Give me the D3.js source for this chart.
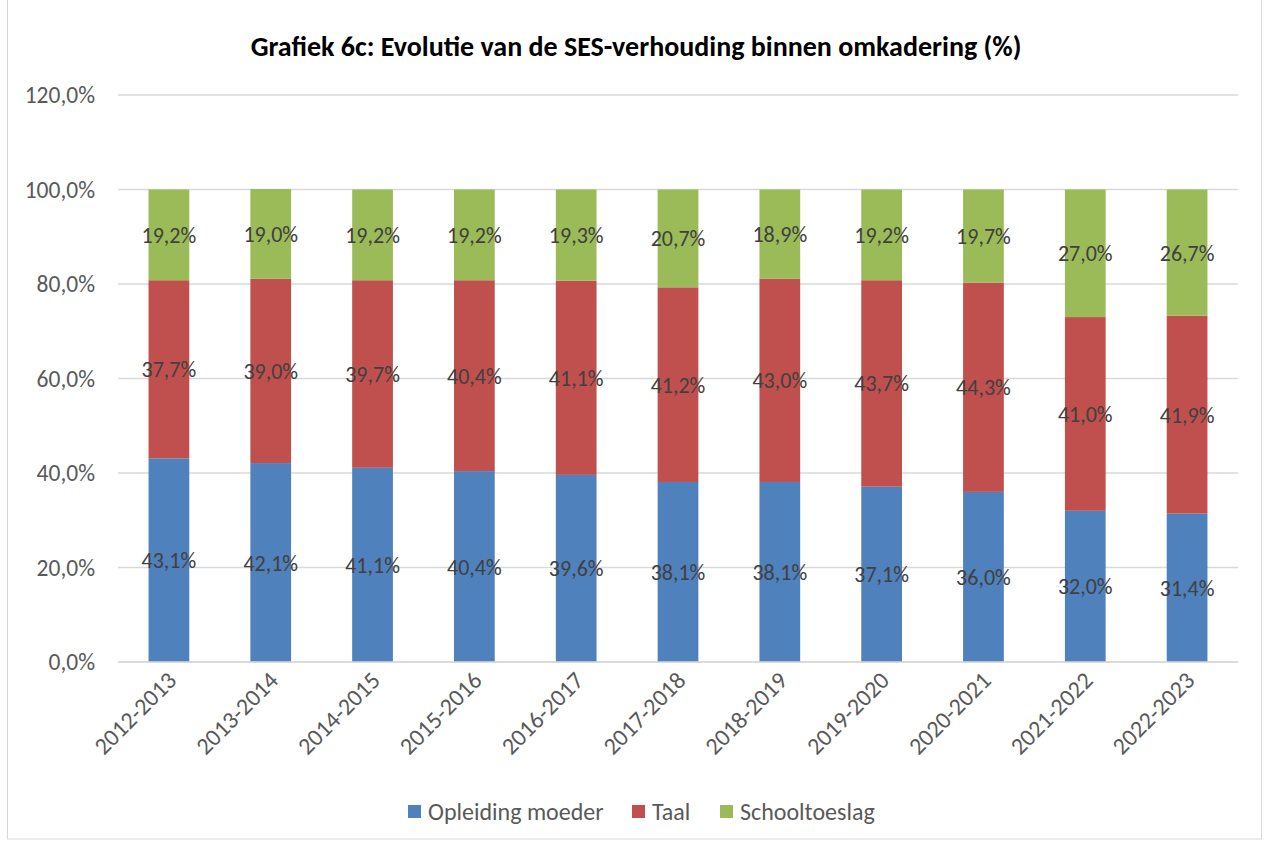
<!DOCTYPE html>
<meta charset="utf-8">
<script src="https://d3js.org/d3.v7.min.js"></script>
<style>
body { margin: 0; background: #fff; }
text { font-family: Carlito, Lato, "Open Sans", sans-serif; }
</style>
<body>
<script>

var years = ["2012-2013","2013-2014","2014-2015","2015-2016","2016-2017","2017-2018","2018-2019","2019-2020","2020-2021","2021-2022","2022-2023"];
var opleiding = [43.1, 42.1, 41.1, 40.4, 39.6, 38.1, 38.1, 37.1, 36.0, 32.0, 31.4];
var taal = [37.7, 39.0, 39.7, 40.4, 41.1, 41.2, 43.0, 43.7, 44.3, 41.0, 41.9];
var schooltoeslag = [19.2, 19.0, 19.2, 19.2, 19.3, 20.7, 18.9, 19.2, 19.7, 27.0, 26.7];
var seriesNames = ["Opleiding moeder", "Taal", "Schooltoeslag"];
var yTicks = [0, 20, 40, 60, 80, 100, 120];

var colors = ["#4F81BD", "#C0504D", "#9BBB59"];
var width = 1266, height = 845;

var svg = d3.select("body").append("svg")
    .attr("width", width)
    .attr("height", height);

// chart border
svg.append("rect")
    .attr("x", 7.5).attr("y", -1)
    .attr("width", 1254).attr("height", 840)
    .attr("fill", "none").attr("stroke", "#d9d9d9");

var x = d3.scaleBand().domain(years).range([118, 1238]).paddingInner(0.6).paddingOuter(0.3);
var y = d3.scaleLinear().domain([0, 120]).range([662, 95]);

// gridlines
svg.append("g").selectAll("line")
    .data(yTicks)
    .enter().append("line")
    .attr("x1", 118).attr("x2", 1238)
    .attr("y1", d => y(d)).attr("y2", d => y(d))
    .attr("stroke", "#d9d9d9").attr("stroke-width", 1.3);

// y labels
svg.append("g").selectAll("text")
    .data(yTicks)
    .enter().append("text")
    .attr("x", 95).attr("y", d => y(d) + 8)
    .attr("text-anchor", "end")
    .style("font-size", "23.5px")
    .attr("fill", "#595959")
    .text(d => d.toFixed(1).replace(".", ",") + "%");

var table = years.map(function(yr, i) {
  return {year: yr, "Opleiding moeder": opleiding[i], "Taal": taal[i], "Schooltoeslag": schooltoeslag[i]};
});
var stacked = d3.stack().keys(seriesNames)(table);

var layer = svg.append("g").selectAll("g")
    .data(stacked)
    .enter().append("g")
    .attr("fill", (d, i) => colors[i]);

layer.selectAll("rect")
    .data(d => d)
    .enter().append("rect")
    .attr("x", d => x(d.data.year))
    .attr("width", x.bandwidth())
    .attr("y", d => y(d[1]))
    .attr("height", d => y(d[0]) - y(d[1]));

layer.selectAll("text")
    .data(d => d.map(v => ({v: v, key: d.key})))
    .enter().append("text")
    .attr("x", d => x(d.v.data.year) + x.bandwidth() / 2)
    .attr("y", d => y((d.v[0] + d.v[1]) / 2) + 8)
    .attr("text-anchor", "middle")
    .style("font-size", "22px")
    .attr("fill", "#404040")
    .text(d => d.v.data[d.key].toFixed(1).replace(".", ",") + "%");

// x axis line
svg.append("line")
    .attr("x1", 118).attr("x2", 1238)
    .attr("y1", y(0)).attr("y2", y(0))
    .attr("stroke", "#d9d9d9").attr("stroke-width", 1.5);

// x labels
svg.append("g").selectAll("text")
    .data(years)
    .enter().append("text")
    .attr("transform", d => "translate(" + (x(d) + x.bandwidth() / 2 + 9) + "," + 682 + ") rotate(-45)")
    .attr("text-anchor", "end")
    .style("font-size", "24px")
    .attr("fill", "#595959")
    .text(d => d);

// title
svg.append("text")
    .attr("x", 636).attr("y", 56)
    .attr("text-anchor", "middle")
    .style("font-size", "28px")
    .style("font-weight", "bold")
    .attr("fill", "#000")
    .text("Grafiek 6c: Evolutie van de SES-verhouding binnen omkadering (%)");

// legend
var legendX = [408, 632, 720];
var legend = svg.append("g").selectAll("g")
    .data(seriesNames)
    .enter().append("g")
    .attr("transform", (d, i) => "translate(" + legendX[i] + ",805)");
legend.append("rect")
    .attr("width", 13).attr("height", 13).attr("y", 0)
    .attr("fill", (d, i) => colors[i]);
legend.append("text")
    .attr("x", 20).attr("y", 15)
    .style("font-size", "24px")
    .attr("fill", "#595959")
    .text(d => d);

</script>
</body>
